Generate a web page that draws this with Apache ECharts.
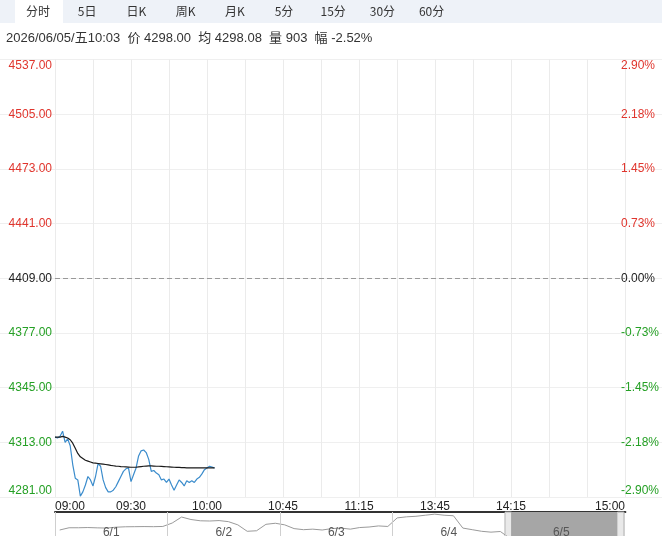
<!DOCTYPE html>
<html>
<head>
<meta charset="utf-8">
<script src="https://cdn.jsdelivr.net/npm/echarts@6/dist/echarts.min.js"></script>
<style>html,body{margin:0;padding:0;background:#fff}#chart{width:662px;height:536px}</style>
</head>
<body>
<div id="chart"></div>
<script>
// settle price of the previous day, the zero line of the chart
const PREV_SETTLE = 4409
const TABS = ['分时', '5日', '日K', '周K', '月K', '5分', '15分', '30分', '60分']
const SESSIONS = [['09:00', '10:15'], ['10:30', '11:30'], ['13:30', '15:00']]
const TICK_LABELS = ['09:00', '09:30', '10:00', '10:45', '11:15', '13:45', '14:15', '15:00']
// y range as offset from settle
const Y_MIN = -128
const Y_MAX = 128
const Y_STEP = 32

// one value per minute, 09:00 .. 10:03
const PRICES = [
  4316, 4315.5, 4316.5, 4319.5, 4313, 4315, 4311, 4300, 4292, 4291,
  4281.5, 4284, 4288, 4293, 4291, 4287.5, 4293, 4300.5, 4299, 4291,
  4286.5, 4284, 4284, 4285, 4287, 4290, 4293, 4296, 4297.5, 4298,
  4290, 4294, 4298, 4305, 4308, 4308.5, 4307, 4303, 4296, 4296.5,
  4295, 4294, 4291, 4291.5, 4289.5, 4291.5, 4288, 4285, 4288, 4291,
  4289.5, 4287.5, 4290.5, 4289.5, 4290.5, 4289.5, 4291.5, 4292.5, 4294.5, 4297,
  4298, 4299, 4298.5, 4298
]
const AVG_PRICES = [
  4316, 4316, 4316, 4316.5, 4316, 4315.5, 4314.5, 4312.5, 4309.5, 4306.5,
  4304.5, 4303.5, 4302.5, 4302, 4301.5, 4301, 4300.8, 4300.6, 4300.4, 4300.2,
  4300, 4299.8, 4299.5, 4299.3, 4299.1, 4299, 4298.8, 4298.7, 4298.6, 4298.5,
  4298.4, 4298.4, 4298.4, 4298.6, 4298.8, 4299, 4299.1, 4299.2, 4299.2, 4299.1,
  4299, 4299, 4298.9, 4298.8, 4298.7, 4298.6, 4298.5, 4298.4, 4298.3, 4298.3,
  4298.2, 4298.2, 4298.1, 4298.1, 4298.1, 4298, 4298, 4298, 4298, 4298,
  4298, 4298.05, 4298.08, 4298.08
]
const LAST_TIME = '2026/06/05/五10:03'
const VOLUME = 903

// 5 day navigator
const DAYS = ['6/1', '6/2', '6/3', '6/4', '6/5']
const NAV_61 = [4392, 4413, 4413, 4415, 4412, 4410, 4418, 4422, 4423, 4424, 4423, 4425]
const NAV_62 = [4457, 4513, 4490, 4478, 4476, 4480, 4470, 4440, 4380, 4385, 4445, 4455]
const NAV_63 = [4440, 4405, 4395, 4400, 4392, 4405, 4410, 4400, 4415, 4420, 4430, 4425]
const NAV_64 = [4505, 4515, 4520, 4530, 4540, 4530, 4525, 4410, 4395, 4380, 4372, 4378]
const NAV_65 = [4316, 4285, 4296, 4298]
const NAV_SELECTED = '6/5'

const FONT = '"Liberation Sans", "Noto Sans CJK SC", sans-serif'
const RED = '#e0352d'
const GREEN = '#25a025'

function toMin(t) { const [h, m] = t.split(':').map(Number); return h * 60 + m }
function fmtMin(m) { return String(Math.floor(m / 60)).padStart(2, '0') + ':' + String(m % 60).padStart(2, '0') }

const times = []
SESSIONS.forEach(([a, b], i) => {
  for (let m = toMin(a) + (i ? 1 : 0); m <= toMin(b); m++) times.push(fmtMin(m))
})
const tickIdx = new Set(TICK_LABELS.map(t => times.indexOf(t)))
const signColor = v => { v = Number(v); return v > 0 ? RED : (v < 0 ? GREEN : '#222') }

const PTS_PER_DAY = 12
const navData = []
;[NAV_61, NAV_62, NAV_63, NAV_64, NAV_65].forEach((day, d) => {
  day.forEach((v, i) => navData.push([d + (i + 0.5) / PTS_PER_DAY, v]))
})
const sel = DAYS.indexOf(NAV_SELECTED)
const HANDLE = 0.058

const last = PRICES.length - 1
const chg = (PRICES[last] - PREV_SETTLE) / PREV_SETTLE * 100
const infoText = LAST_TIME + '  价 ' + PRICES[last].toFixed(2) + '  均 ' + AVG_PRICES[last].toFixed(2) +
  '  量 ' + VOLUME + '  幅 ' + chg.toFixed(2) + '%'

const chart = echarts.init(document.getElementById('chart'))

const tabGraphics = TABS.map((t, i) => ({
  type: 'text', x: 38 + i * 49.2, y: 11,
  style: { text: t, fill: '#333', font: '12px "Noto Sans CJK SC", sans-serif', align: 'center', verticalAlign: 'middle' }
}))

const option = {
  animation: false,
  backgroundColor: '#fff',
  graphic: [
    { type: 'rect', shape: { x: 0, y: 0, width: 662, height: 23 }, style: { fill: '#eef2f8' } },
    { type: 'rect', shape: { x: 15, y: 0, width: 48, height: 23 }, style: { fill: '#fff' } },
    ...tabGraphics,
    { type: 'text', x: 6, y: 38,
      style: { text: infoText, fill: '#333', font: '13px ' + FONT, verticalAlign: 'middle' } }
  ],
  grid: [
    { left: 55, right: 37, top: 59.5, height: 437.5, outerBoundsMode: 'none' },
    { left: 55, top: 512, width: 570.4, height: 30, outerBoundsMode: 'none' },
    { left: 0, right: 0, top: 59.5, height: 437.5, outerBoundsMode: 'none' },
    { left: 55, top: 512, width: 562.5, height: 30, outerBoundsMode: 'none' }
  ],
  xAxis: [
    { type: 'category', gridIndex: 0, data: times, boundaryGap: false,
      axisLine: { show: false }, axisTick: { show: false },
      axisLabel: { interval: i => tickIdx.has(i), color: '#222', fontSize: 12, fontFamily: FONT, margin: 4,
        alignMinLabel: 'left', alignMaxLabel: 'right' },
      splitLine: { show: true, interval: i => i % 15 === 0, lineStyle: { color: '#ebebeb' } } },
    { type: 'value', gridIndex: 1, min: 0, max: 5.07, position: 'top',
      axisLine: { show: true, lineStyle: { color: '#333', width: 2 } },
      axisTick: { show: false }, axisLabel: { show: false }, splitLine: { show: false } },
    { type: 'value', gridIndex: 2, show: false },
    { type: 'category', gridIndex: 3, data: DAYS, boundaryGap: true, position: 'top', z: 10,
      axisLine: { show: false }, axisTick: { show: false },
      axisLabel: { inside: true, margin: 21, verticalAlign: 'middle', color: '#555', fontSize: 12, fontFamily: FONT },
      splitLine: { show: true, lineStyle: { color: '#cfcfcf' } } }
  ],
  yAxis: [
    { type: 'value', gridIndex: 0, min: Y_MIN, max: Y_MAX, interval: Y_STEP, position: 'left',
      axisLine: { show: false }, axisTick: { show: false }, splitLine: { show: false },
      axisLabel: { margin: 3, fontSize: 12, fontFamily: FONT, color: signColor,
        verticalAlignMinLabel: 'bottom', verticalAlignMaxLabel: 'top',
        formatter: v => (v + PREV_SETTLE).toFixed(2) } },
    { type: 'value', gridIndex: 0, min: Y_MIN, max: Y_MAX, interval: Y_STEP, position: 'right',
      axisLine: { show: false }, axisTick: { show: false }, splitLine: { show: false },
      axisLabel: { margin: -4, fontSize: 12, fontFamily: FONT, color: signColor,
        verticalAlignMinLabel: 'bottom', verticalAlignMaxLabel: 'top',
        formatter: v => (v / PREV_SETTLE * 100).toFixed(2) + '%' } },
    { type: 'value', gridIndex: 2, min: Y_MIN, max: Y_MAX, interval: Y_STEP,
      axisLine: { show: false }, axisTick: { show: false }, axisLabel: { show: false },
      splitLine: { show: true, lineStyle: { color: '#efefef' } } },
    { type: 'value', gridIndex: 1, min: 4280, max: 4560, show: false },
    { type: 'value', gridIndex: 3, show: false }
  ],
  series: [
    { type: 'line', name: '价', xAxisIndex: 0, yAxisIndex: 0, symbol: 'none',
      data: PRICES.map(p => +(p - PREV_SETTLE).toFixed(2)),
      lineStyle: { color: '#3b8ccc', width: 1.2 },
      markLine: { silent: true, symbol: 'none', label: { show: false },
        lineStyle: { color: '#999', type: [5, 3], width: 1 }, data: [{ yAxis: 0 }] } },
    { type: 'line', name: '均', xAxisIndex: 0, yAxisIndex: 0, symbol: 'none',
      data: AVG_PRICES.map(p => +(p - PREV_SETTLE).toFixed(2)),
      lineStyle: { color: '#1a1a1a', width: 1.2 } },
    { type: 'line', name: 'nav', xAxisIndex: 1, yAxisIndex: 3, symbol: 'none', data: navData,
      lineStyle: { color: '#9a9a9a', width: 1 },
      markArea: { silent: true, data: [
        [{ xAxis: sel, itemStyle: { color: '#a6a6a6' } }, { xAxis: sel + 1 }],
        [{ xAxis: sel, itemStyle: { color: '#e9e9e9', borderColor: '#aaa', borderWidth: 1 } }, { xAxis: sel + HANDLE }],
        [{ xAxis: sel + 1, itemStyle: { color: '#e9e9e9', borderColor: '#aaa', borderWidth: 1 } }, { xAxis: sel + 1 + HANDLE }]
      ] } }
  ]
}
chart.setOption(option)
</script>
</body>
</html>
